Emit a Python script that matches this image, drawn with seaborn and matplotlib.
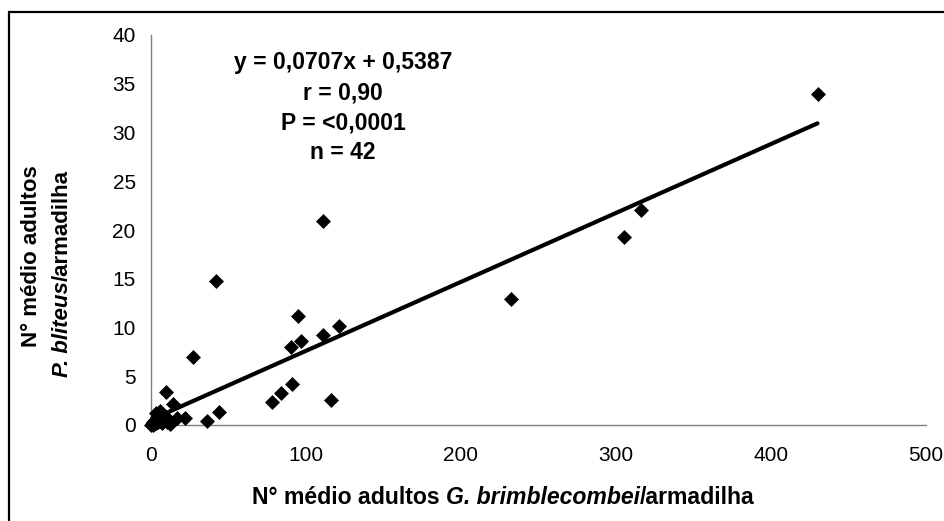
import numpy as np
import pandas as pd
import matplotlib
matplotlib.use("Agg")
import matplotlib.pyplot as plt
import seaborn as sns
from matplotlib.patches import Rectangle

# ---- data ----
x_vals = [430, 316, 305, 232, 111, 42, 27, 95, 121, 111, 97, 90, 91, 84, 116, 78, 44, 36,
          9.5, 14.5, 22, 17, 13, 6,
          0, 0.5, 1, 1.5, 2, 2.5, 3, 4, 4.5, 5, 6, 7, 8, 9, 10, 11, 3, 12]
y_vals = [34.0, 22.1, 19.3, 12.9, 20.9, 14.8, 7.0, 11.2, 10.2, 9.2, 8.6, 8.0, 4.2, 3.3, 2.6, 2.4, 1.3, 0.4,
          3.4, 2.2, 0.7, 0.7, 0.2, 1.4,
          0, 0.1, 0, 0.3, 0.1, 0.5, 0.2, 0.8, 0.3, 1.0, 0.4, 0.2, 0.9, 0.5, 0.3, 0.6, 1.2, 0.1]
slope = 0.0707
intercept = 0.5387
x_ticks = [0, 100, 200, 300, 400, 500]
y_ticks = [0, 5, 10, 15, 20, 25, 30, 35, 40]
stats_lines = ["y = 0,0707x + 0,5387", "r = 0,90", "P = <0,0001", "n = 42"]

sns.set_theme(style="white")
plt.rcParams['font.family'] = ['Liberation Sans', 'DejaVu Sans']

W, H = 944, 521
fig = plt.figure(figsize=(W / 100, H / 100), dpi=100)
fig.patch.set_facecolor("white")

def fx(px):
    return px / W

def fy(py):
    return 1 - py / H

ax = fig.add_axes([fx(151), fy(425), (926 - 151) / W, (425 - 35) / H])
ax.set_facecolor("white")

df = pd.DataFrame({"x": x_vals, "y": y_vals})
sns.scatterplot(data=df, x="x", y="y", marker="D", s=58, color="black",
                linewidth=0, ax=ax, zorder=3, clip_on=False, legend=False)

line_x = [min(x_vals), max(x_vals)]
line_df = pd.DataFrame({"x": line_x, "y": [slope * v + intercept for v in line_x]})
sns.lineplot(data=line_df, x="x", y="y", color="black", linewidth=3, ax=ax, zorder=4)

ax.set_xlim(0, 500)
ax.set_ylim(0, 40)
ax.set_xticks(x_ticks)
ax.set_yticks(y_ticks)
ax.set_xticklabels([str(t) for t in x_ticks], fontsize=15)
ax.set_yticklabels([str(t) for t in y_ticks], fontsize=15)
ax.set_xlabel("")
ax.set_ylabel("")
for s in ["top", "right"]:
    ax.spines[s].set_visible(False)
for s in ["left", "bottom"]:
    ax.spines[s].set_color("#808080")
    ax.spines[s].set_linewidth(1.0)
ax.tick_params(axis="both", which="both", direction="out", length=4, width=1.0,
               color="#808080", labelcolor="black")
ax.tick_params(axis="y", pad=7)
ax.tick_params(axis="x", pad=11)
ax.grid(False)

# stats annotation
ys = [62, 93, 123, 153]
for t, yy in zip(stats_lines, ys):
    fig.text(fx(343), fy(yy), t, ha="center", va="center", fontsize=16.5,
             fontweight="bold", color="black")

# composite labels
fig.canvas.draw()
renderer = fig.canvas.get_renderer()

def place_pieces(pieces, x0, y0, rotation, fs):
    # x0,y0 in pixels from top-left; pieces: list of (text, style)
    cur = 0.0
    for txt, style in pieces:
        if txt == " ":
            cur += 0.278 * fs * 100 / 72
            continue
        if rotation == 0:
            t = fig.text(fx(x0 + cur), fy(y0), txt, fontsize=fs, fontweight="bold",
                         fontstyle=style, ha="left", va="baseline", color="black")
            bb = t.get_window_extent(renderer)
            cur += bb.width
        else:
            t = fig.text(fx(x0), fy(y0 - cur), txt, fontsize=fs, fontweight="bold",
                         fontstyle=style, ha="left", va="baseline", rotation=90,
                         rotation_mode="anchor", color="black")
            bb = t.get_window_extent(renderer)
            cur += bb.height

place_pieces([("N° médio adultos", "normal"), (" ", None), ("G. brimblecombei", "italic"),
              ("/armadilha", "normal")], 252, 504, 0, 16.6)
place_pieces([("N° médio adultos", "normal")], 37, 347, 90, 16)
place_pieces([("P. bliteus", "italic"), ("/armadilha", "normal")], 68, 377, 90, 16)

# outer frame
fig.patches.append(Rectangle((fx(9), -0.05), 1.2, fy(12) + 0.05, transform=fig.transFigure,
                             fill=False, edgecolor="black", linewidth=1.6, zorder=0))

fig.savefig("out.png", dpi=100, facecolor="white")
